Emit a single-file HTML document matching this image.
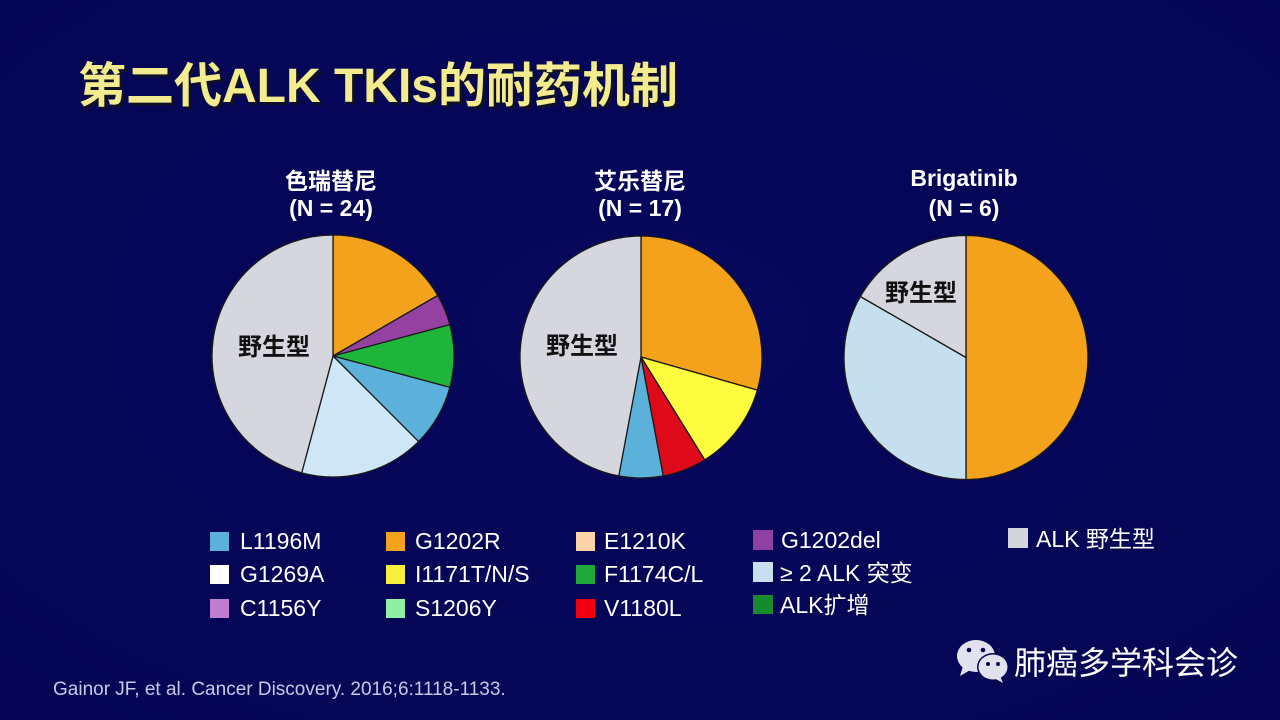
<!DOCTYPE html>
<html><head><meta charset="utf-8"><style>
html,body{margin:0;padding:0;background:#06065a;}
svg{display:block;}
.t{font-family:"Liberation Sans","Noto Sans CJK SC",sans-serif;}
</style></head><body>
<svg width="1280" height="720" viewBox="0 0 1280 720" xmlns="http://www.w3.org/2000/svg">
<defs>
<radialGradient id="bg" cx="50%" cy="45%" r="75%">
<stop offset="0" stop-color="#07075c"/><stop offset="1" stop-color="#050554"/>
</radialGradient>
</defs>
<rect width="1280" height="720" fill="url(#bg)"/>

<!-- Title -->
<g class="t" font-size="48" font-weight="bold">
<text x="81" y="105" fill="#111122" opacity="0.9">第二代ALK TKIs的耐药机制</text>
<text x="78" y="102" fill="#f3ec8e">第二代ALK TKIs的耐药机制</text>
</g>

<!-- Pie titles -->
<g class="t" font-size="23" font-weight="bold" fill="#ffffff" text-anchor="middle">
<text x="331" y="189">色瑞替尼</text>
<text x="331" y="216">(N = 24)</text>
<text x="640" y="189">艾乐替尼</text>
<text x="640" y="216">(N = 17)</text>
<text x="964" y="186">Brigatinib</text>
<text x="964" y="216">(N = 6)</text>
</g>

<g stroke="#1a1a1a" stroke-width="1.3" stroke-linejoin="round">
<!-- Pie 1 -->
<path d="M333,356 L333,235 A121,121 0 0 1 437.79,295.5 Z" fill="#f4a11c"/>
<path d="M333,356 L437.79,295.5 A121,121 0 0 1 449.88,324.68 Z" fill="#9441a2"/>
<path d="M333,356 L449.88,324.68 A121,121 0 0 1 449.88,387.32 Z" fill="#1fb43a"/>
<path d="M333,356 L449.88,387.32 A121,121 0 0 1 418.56,441.56 Z" fill="#5cb1da"/>
<path d="M333,356 L418.56,441.56 A121,121 0 0 1 301.68,472.88 Z" fill="#cfe6f6"/>
<path d="M333,356 L301.68,472.88 A121,121 0 0 1 333,235 Z" fill="#d6d6de"/>
<!-- Pie 2 -->
<path d="M641,357 L641,236 A121,121 0 0 1 757.38,390.11 Z" fill="#f4a11c"/>
<path d="M641,357 L757.38,390.11 A121,121 0 0 1 704.69,459.87 Z" fill="#fdfc3e"/>
<path d="M641,357 L704.69,459.87 A121,121 0 0 1 663.23,475.94 Z" fill="#de0a1a"/>
<path d="M641,357 L663.23,475.94 A121,121 0 0 1 618.77,475.94 Z" fill="#5cb1da"/>
<path d="M641,357 L618.77,475.94 A121,121 0 0 1 641,236 Z" fill="#d6d6de"/>
<!-- Pie 3 -->
<path d="M966,357.5 L966,235.5 A122,122 0 0 1 966,479.5 Z" fill="#f4a11c"/>
<path d="M966,357.5 L966,479.5 A122,122 0 0 1 860.34,296.5 Z" fill="#c6dfee"/>
<path d="M966,357.5 L860.34,296.5 A122,122 0 0 1 966,235.5 Z" fill="#d6d6de"/>
</g>

<!-- Wild type labels -->
<g class="t" font-size="24" font-weight="bold" fill="#111111" text-anchor="middle">
<text x="274" y="355">野生型</text>
<text x="582" y="354">野生型</text>
<text x="921" y="301">野生型</text>
</g>

<!-- Legend -->
<g>
<rect x="210" y="532" width="19" height="19" fill="#5cb1da"/>
<rect x="210" y="565" width="19" height="19" fill="#ffffff"/>
<rect x="210" y="599" width="19" height="19" fill="#c07ed0"/>
<rect x="386" y="532" width="19" height="19" fill="#f4a11c"/>
<rect x="386" y="565" width="19" height="19" fill="#f8ee3c"/>
<rect x="386" y="599" width="19" height="19" fill="#8ef0a4"/>
<rect x="576" y="532" width="19" height="19" fill="#fbd3a8"/>
<rect x="576" y="565" width="19" height="19" fill="#1fa83a"/>
<rect x="576" y="599" width="19" height="19" fill="#f00010"/>
<rect x="753" y="530" width="20" height="20" fill="#9040a0"/>
<rect x="753" y="562" width="20" height="20" fill="#c8dff0"/>
<rect x="753" y="595" width="20" height="19" fill="#178a2e"/>
<rect x="1008" y="528" width="20" height="20" fill="#d4d4dc"/>
</g>
<g class="t" font-size="23" fill="#ffffff">
<text x="240" y="549">L1196M</text>
<text x="240" y="582">G1269A</text>
<text x="240" y="616">C1156Y</text>
<text x="415" y="549">G1202R</text>
<text x="415" y="582">I1171T/N/S</text>
<text x="415" y="616">S1206Y</text>
<text x="604" y="549">E1210K</text>
<text x="604" y="582">F1174C/L</text>
<text x="604" y="616">V1180L</text>
<text x="781" y="548">G1202del</text>
<text x="780" y="581">≥ 2 ALK 突变</text>
<text x="780" y="613">ALK扩增</text>
<text x="1036" y="547">ALK 野生型</text>
</g>

<!-- Citation -->
<text class="t" x="53" y="695" font-size="19" fill="#c8c8e6">Gainor JF, et al. Cancer Discovery. 2016;6:1118-1133.</text>

<!-- Watermark -->
<g fill="#e2e2ee">
<ellipse cx="976" cy="656" rx="19" ry="16"/>
<path d="M963,666 L960,676 L972,669 Z"/>
<ellipse cx="993" cy="667" rx="16" ry="14" fill="#06065a"/>
<ellipse cx="993" cy="667" rx="14.5" ry="12.5"/>
<path d="M1000,676 L1003,683 L994,678 Z"/>
</g>
<g fill="#06065a">
<circle cx="969" cy="650" r="2.3"/><circle cx="983" cy="650" r="2.3"/>
<circle cx="988" cy="664" r="2"/><circle cx="998" cy="664" r="2"/>
</g>
<text class="t" x="1014" y="674" font-size="32" fill="#ffffff">肺癌多学科会诊</text>
</svg>
</body></html>
